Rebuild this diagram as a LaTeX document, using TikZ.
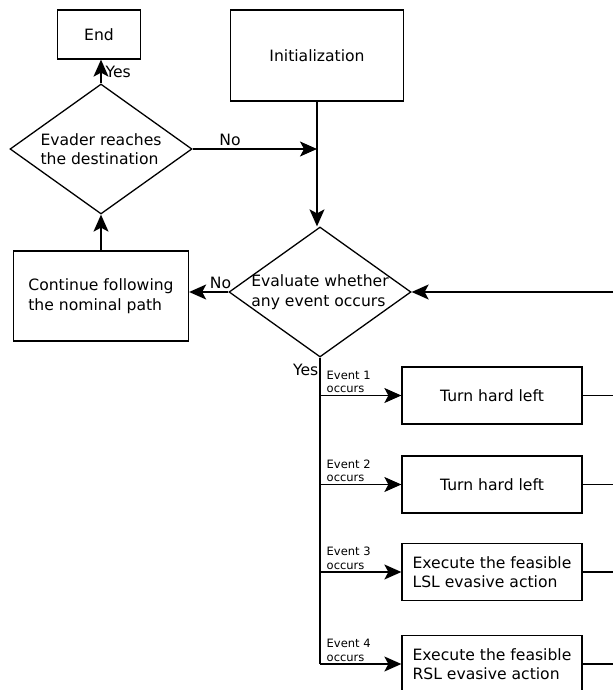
\documentclass[tikz,border=0pt]{standalone}
\usepackage{fontspec}
\setmainfont{DejaVu Sans}
\usetikzlibrary{shapes.geometric,arrows.meta}

\begin{document}
\begin{tikzpicture}[x=1pt,y=-1pt,line width=1.3pt,
	>={Stealth[length=17pt,width=15pt,inset=4pt]},
	every node/.style={font=\fontsize{15.6}{19.5}\selectfont},
	box/.style={draw,rectangle,align=left,inner sep=0pt},
	action/.style={box,minimum width=180pt,minimum height=57pt},
	decision/.style={draw,diamond,inner sep=0pt,minimum width=182pt,minimum height=130pt},
	evt/.style={font=\fontsize{11.5}{13.5}\selectfont,align=left,inner sep=2pt}]
	\useasboundingbox (0,0) rectangle (613,690);
	\coordinate (RightEdge) at (613,0);
	
	% top part
	\node[box,minimum width=83pt,minimum height=49pt] (End) at (99,34.5) {End};
	\node[box,minimum width=173pt,minimum height=91pt] (Init) at (317,55.5) {Initialization};
	\node[decision] (Reach) at (101,149) {};
	\node[align=left] (ReachTxt) at (Reach) {Evader reaches\\the destination};
	\node[decision] (Eval) at (320,292) {};
	\node[align=left] (EvalTxt) at (Eval) {Evaluate whether\\any event occurs};
	\node[box,minimum width=175pt,minimum height=90pt] (Cont) at (101,296) {Continue following\\the nominal path};
	
	% actions
	\node[action] (Act1) at (492,395.5) {Turn hard left};
	\node[action] (Act2) at (492,484.5) {Turn hard left};
	\node[action] (Act3) at (492,572) {Execute the feasible\\LSL evasive action};
	\node[action] (Act4) at (492,664) {Execute the feasible\\RSL evasive action};
	
	\draw[->] (Reach.north) -- (Reach.north |- End.south) node[midway,right,inner sep=4pt] (YesEnd) {Yes};
	\draw[->] (Reach.east) -- (Reach.east -| Init.south) node[pos=0.3,above,inner sep=3pt] (NoReach) {No};
	\draw[->] (Init.south) -- (Init.south |- Eval.north);
	\draw[->] (Eval.west) -- (Eval.west -| Cont.east) node[pos=0.2,above,inner sep=3pt] (NoEval) {No};
	\draw[->] (Cont.north) -- (Reach.south);
	\draw[->] (Eval.east -| RightEdge) -- (Eval.east);
	
	% event branches
	\draw (Eval.south) -- (Eval.south |- Act4.west) node[pos=0.04,left,inner sep=1pt] (YesEval) {Yes};
	\foreach \i in {1,...,4}{
		\draw[->] (Eval.south |- Act\i.west) -- (Act\i.west) node[pos=0.05,above right,evt] (Evt\i) {Event \i\\occurs};
		\draw (Act\i.east) -- (Act\i.east -| RightEdge);
	}
\end{tikzpicture}
\end{document}
